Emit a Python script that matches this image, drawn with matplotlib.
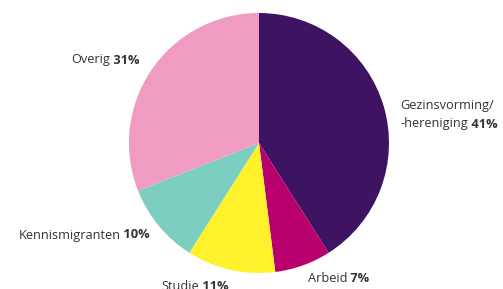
import matplotlib.pyplot as plt
from matplotlib import font_manager

names = ["Gezinsvorming/\n-hereniging", "Arbeid", "Studie", "Kennismigranten", "Overig"]
values = [41, 7, 11, 10, 31]
colors = ["#3e1361", "#b8006f", "#fff22c", "#7ccfc0", "#f09bc1"]

# label anchor (pixels, y down) and alignment
label_pos = [(400, 124), (308, 279), (195, 287), (150, 235), (140, 60)]
label_ha = ["left", "left", "center", "right", "right"]

avail = {f.name for f in font_manager.fontManager.ttflist}
fam = "Liberation Sans Narrow" if "Liberation Sans Narrow" in avail else "Open Sans"

W, H = 503, 289
fig = plt.figure(figsize=(W / 100, H / 100), dpi=100)
ax = fig.add_axes([0, 0, 1, 1])

ax.pie(values, colors=colors, startangle=90, counterclock=False,
       center=(259, H - 143), radius=130,
       wedgeprops=dict(linewidth=0))
ax.set_xlim(0, W)
ax.set_ylim(0, H)
ax.set_aspect("auto")
ax.axis("off")

fig.canvas.draw()
renderer = fig.canvas.get_renderer()
tc = "#333333"
fs = 9.2

def px_width(t):
    return t.get_window_extent(renderer).width

for name, val, (x, y), ha in zip(names, values, label_pos, label_ha):
    lines = name.split("\n")
    pct = f" {val}%"
    yy = H - y
    n = len(lines)
    line_h = 18
    # first lines (no percentage)
    for i, ln in enumerate(lines[:-1]):
        ly = yy + (n - 1 - i) * line_h
        ax.text(x, ly, ln, fontsize=fs, family=fam, color=tc, va="center", ha="left")
    last = lines[-1]
    t1 = ax.text(0, yy, last, fontsize=fs, family=fam, color=tc, va="center", ha="left")
    t2 = ax.text(0, yy, pct, fontsize=fs, family=fam, color=tc, va="center", ha="left",
                 fontweight="bold")
    w1 = px_width(t1)
    w2 = px_width(t2)
    total = w1 + w2
    if ha == "left":
        x0 = x
    elif ha == "right":
        x0 = x - total
    else:
        x0 = x - total / 2
    t1.set_x(x0)
    t2.set_x(x0 + w1)

fig.savefig("out.png", dpi=100)
